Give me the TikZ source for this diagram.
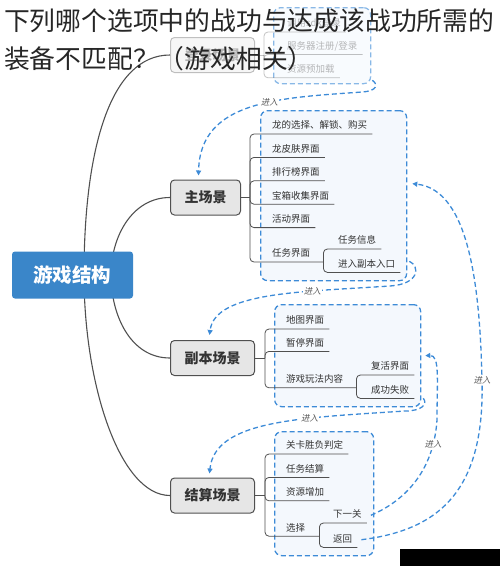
\documentclass[tikz,border=0pt]{standalone}
\usepackage{fontspec}
\usepackage{tikz}
\usetikzlibrary{positioning,arrows.meta,backgrounds}
\newfontfamily\cjk{Noto Sans CJK SC}
\newfontfamily\cjkslant{Noto Sans CJK SC}[FakeSlant=0.2]
\definecolor{rootblue}{HTML}{3A86C9}
\definecolor{frameblue}{HTML}{3D8BD7}
\definecolor{framefill}{HTML}{F4F8FD}
\definecolor{scenefill}{HTML}{E6E6E6}
\definecolor{linegray}{HTML}{505050}
\definecolor{textgray}{HTML}{333333}
\tikzstyle{root} = [fill=rootblue, rounded corners=3pt, text=white, font=\cjk\bfseries\fontsize{19.5}{20}\selectfont, minimum width=121pt, minimum height=47pt]
\tikzstyle{scene} = [draw=linegray, line width=1pt, fill=scenefill, rounded corners=4pt, text=textgray, font=\cjk\bfseries\fontsize{14}{15}\selectfont, minimum height=35pt, inner xsep=14pt, anchor=west]
\tikzstyle{item} = [text=textgray, font=\cjk\fontsize{9.5}{11}\selectfont, inner xsep=5pt, inner ysep=3pt, text height=7pt, text depth=2pt, anchor=south west]
\tikzstyle{branch} = [draw=linegray, line width=0.8pt, rounded corners=4pt]
\tikzstyle{trunk} = [draw=linegray, line width=1.1pt]
\tikzstyle{frame} = [draw=frameblue, dash pattern=on 5pt off 3pt, line width=1.3pt, fill=framefill, rounded corners=7pt, anchor=north west]
\tikzstyle{enter} = [draw=frameblue, dash pattern=on 5pt off 3pt, line width=1.3pt, -{Triangle[length=5pt,width=5pt]}]
\tikzstyle{enterlabel} = [text=black!65, font=\cjkslant\fontsize{8.5}{9}\selectfont, fill=white, inner sep=1pt]
\tikzstyle{question} = [text=black!85, font=\cjk\fontsize{25.8}{26}\selectfont, inner sep=0pt, anchor=west]
\tikzstyle{faded} = [opacity=0.35]

\begin{document}
\begin{tikzpicture}[x=1pt, y=1pt]
	\useasboundingbox (0,0) rectangle (500,-566);
	\node[frame, opacity=0.6, minimum width=97pt, minimum height=76pt] (LOGIN_FRAME) at (273,-7) {};
	\node[frame, minimum width=146pt, minimum height=170pt] (MAIN_FRAME) at (260,-110) {};
	\node[frame, minimum width=146pt, minimum height=102pt] (DUNGEON_FRAME) at (274,-304) {};
	\node[frame, minimum width=99pt, minimum height=124pt] (SETTLE_FRAME) at (274,-431) {};

	\node[root] (ROOT) at (72.5,-275) {游戏结构};
	\node[scene, faded] (LOGIN_SCENE) at (170,-55) {登录场景};
	\node[scene] (MAIN_SCENE) at (170,-197.5) {主场景};
	\node[scene] (DUNGEON_SCENE) at (170,-358) {副本场景};
	\node[scene] (SETTLE_SCENE) at (170,-495.5) {结算场景};

	\node[item, faded] (SDK) at (282,-32) {调用sdk登录};
	\node[item, faded, below right=7pt and 0pt of SDK.south west] (SERVER) {服务器注册/登录};
	\node[item, faded, below right=8pt and 0pt of SERVER.south west] (PRELOAD) {资源预加载};
	\coordinate (LOGIN_J) at ([xshift=9pt]LOGIN_SCENE.east);
	\draw[branch, faded] (LOGIN_SCENE.east) -- (LOGIN_J);
	\draw[branch, faded] (LOGIN_J) |- (SDK.south east);
	\draw[branch, faded] (LOGIN_J) |- (SERVER.south east);
	\draw[branch, faded] (LOGIN_J) |- (PRELOAD.south east);

	\node[item] (DRAGON) at (267,-134) {龙的选择、解锁、购买};
	\node[item, below right=8pt and 0pt of DRAGON.south west] (SKIN) {龙皮肤界面};
	\node[item, below right=8pt and 0pt of SKIN.south west] (RANK) {排行榜界面};
	\node[item, below right=8pt and 0pt of RANK.south west] (CHEST) {宝箱收集界面};
	\node[item, below right=8pt and 0pt of CHEST.south west] (EVENT) {活动界面};
	\node[item, below right=19pt and 0pt of EVENT.south west] (TASK) {任务界面};
	\node[item] (TASK_INFO) at (333,-249) {任务信息};
	\node[item, below right=8pt and 0pt of TASK_INFO.south west] (ENTER_DUNGEON) {进入副本入口};
	\coordinate (MAIN_J) at ([xshift=9pt]MAIN_SCENE.east);
	\coordinate (TASK_J) at ([xshift=8pt]TASK.south east);
	\draw[branch] (MAIN_SCENE.east) -- (MAIN_J);
	\draw[branch] (MAIN_J) |- (DRAGON.south east);
	\draw[branch] (MAIN_J) |- (SKIN.south east);
	\draw[branch] (MAIN_J) |- (RANK.south east);
	\draw[branch] (MAIN_J) |- (CHEST.south east);
	\draw[branch] (MAIN_J) |- (EVENT.south east);
	\draw[branch] (MAIN_J) |- (TASK_J);
	\draw[branch] (TASK_J) |- (TASK_INFO.south east);
	\draw[branch] (TASK_J) |- (ENTER_DUNGEON.south east);

	\node[item] (MAP) at (281,-329) {地图界面};
	\node[item, below right=7pt and 0pt of MAP.south west] (PAUSE) {暂停界面};
	\node[item, below right=21pt and 0pt of PAUSE.south west] (GAMEPLAY) {游戏玩法内容};
	\node[item] (REVIVE) at (366,-375) {复活界面};
	\node[item, below right=8pt and 0pt of REVIVE.south west] (RESULT) {成功失败};
	\coordinate (DUNGEON_J) at ([xshift=10pt]DUNGEON_SCENE.east);
	\coordinate (GAMEPLAY_J) at ([xshift=8pt]GAMEPLAY.south east);
	\draw[branch] (DUNGEON_SCENE.east) -- (DUNGEON_J);
	\draw[branch] (DUNGEON_J) |- (MAP.south east);
	\draw[branch] (DUNGEON_J) |- (PAUSE.south east);
	\draw[branch] (DUNGEON_J) |- (GAMEPLAY_J);
	\draw[branch] (GAMEPLAY_J) |- (REVIVE.south east);
	\draw[branch] (GAMEPLAY_J) |- (RESULT.south east);

	\node[item] (LEVEL_JUDGE) at (281,-454) {关卡胜负判定};
	\node[item, below right=8pt and 0pt of LEVEL_JUDGE.south west] (TASK_SETTLE) {任务结算};
	\node[item, below right=8pt and 0pt of TASK_SETTLE.south west] (RESOURCE) {资源增加};
	\node[item, below right=20pt and 0pt of RESOURCE.south west] (CHOOSE) {选择};
	\node[item] (NEXT_LEVEL) at (328,-523) {下一关};
	\node[item, below right=9pt and 0pt of NEXT_LEVEL.south west] (BACK) {返回};
	\coordinate (SETTLE_J) at ([xshift=10pt]SETTLE_SCENE.east);
	\coordinate (CHOOSE_J) at ([xshift=9pt]CHOOSE.south east);
	\draw[branch] (SETTLE_SCENE.east) -- (SETTLE_J);
	\draw[branch] (SETTLE_J) |- (LEVEL_JUDGE.south east);
	\draw[branch] (SETTLE_J) |- (TASK_SETTLE.south east);
	\draw[branch] (SETTLE_J) |- (RESOURCE.south east);
	\draw[branch] (SETTLE_J) |- (CHOOSE_J);
	\draw[branch] (CHOOSE_J) |- (NEXT_LEVEL.south east);
	\draw[branch] (CHOOSE_J) |- (BACK.south east);

	\begin{scope}[on background layer]
	\draw[trunk] ([xshift=11.5pt]ROOT.center) .. controls +(0,125) and +(-60,0) .. (LOGIN_SCENE.west);
	\draw[trunk] ([xshift=38.5pt]ROOT.center) to[out=90,in=180] (MAIN_SCENE.west);
	\draw[trunk] ([xshift=38.5pt]ROOT.center) to[out=-90,in=180] (DUNGEON_SCENE.west);
	\draw[trunk] ([xshift=11.5pt]ROOT.center) .. controls +(0,-110) and +(-50,0) .. (SETTLE_SCENE.west);
	\end{scope}

	\draw[enter] ([xshift=1pt,yshift=4pt]LOGIN_FRAME.south east) .. controls (378,-84) and (378,-91) .. (362,-92)
		.. controls (280,-98) and (200,-100) .. ([xshift=-7pt,yshift=4pt]MAIN_SCENE.north) node[enterlabel, pos=0.4] {进入};
	\draw[enter] ([xshift=2pt,yshift=20pt]MAIN_FRAME.south east) .. controls (420,-266) and (420,-284) .. (390,-286)
		.. controls (300,-292) and (215,-292) .. ([xshift=-3pt,yshift=5pt]DUNGEON_SCENE.north) node[enterlabel, pos=0.3] {进入};
	\draw[enter] ([xshift=2pt,yshift=9pt]DUNGEON_FRAME.south east) .. controls (428,-404) and (422,-411) .. (405,-411)
		.. controls (300,-418) and (215,-420) .. ([xshift=-3pt,yshift=4pt]SETTLE_SCENE.north) node[enterlabel, pos=0.33] {进入};
	\draw[enter] ([xshift=4pt]NEXT_LEVEL.east) .. controls (395,-505) and (433,-480) .. (437,-420) node[enterlabel, pos=0.85] {进入}
		.. controls (437,-380) and (440,-355) .. ([xshift=4pt]DUNGEON_FRAME.east);
	\draw[enter] ([xshift=4pt]BACK.east) .. controls (440,-530) and (485,-490) .. (482,-380) node[enterlabel] {进入}
		.. controls (480,-290) and (470,-190) .. ([xshift=5pt,yshift=12pt]MAIN_FRAME.east);

	\fill[black] (400,-549) rectangle (500,-566);

	\node[question] (Q_LINE1) at (4,-21) {下列哪个选项中的战功与达成该战功所需的};
	\node[question] (Q_LINE2) at ([yshift=-38pt]Q_LINE1.west) {装备不匹配？（游戏相关）};
\end{tikzpicture}
\end{document}
